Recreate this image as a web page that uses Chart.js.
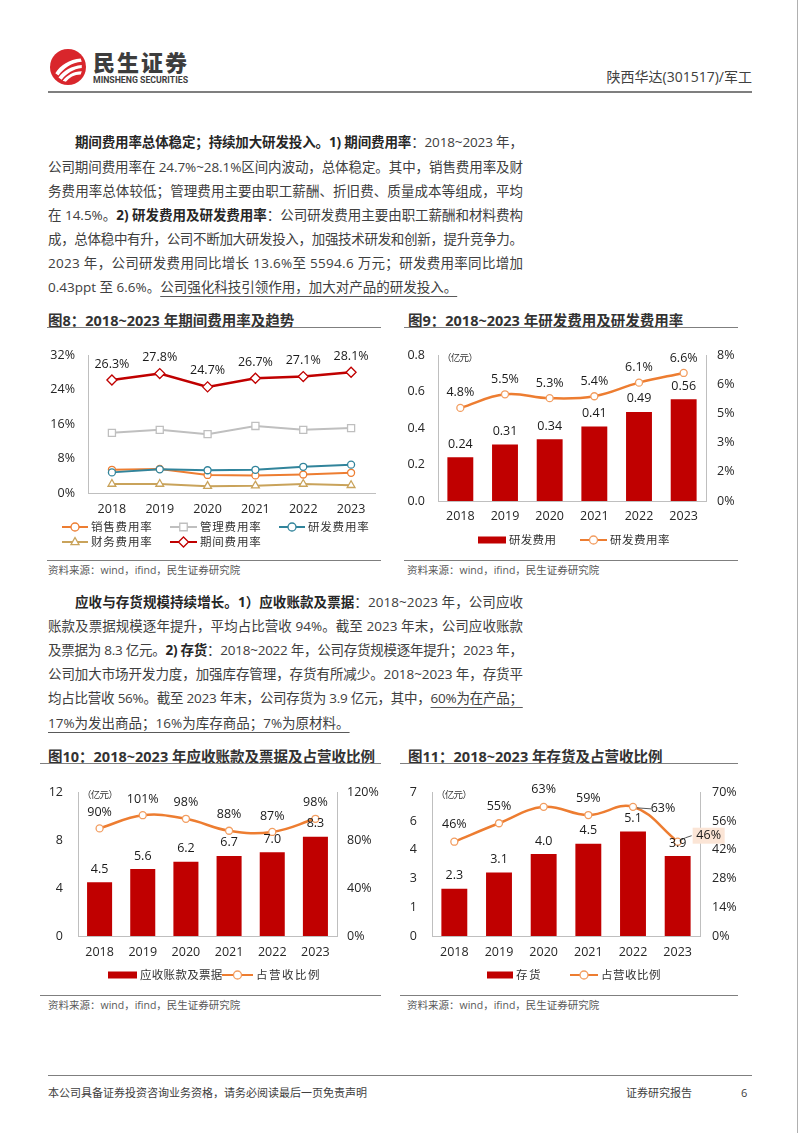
<!DOCTYPE html>
<html>
<head>
<meta charset="utf-8">
<title>陕西华达 费用与营运</title>
<script src="https://cdn.jsdelivr.net/npm/chart.js"></script>
<style>
    body { margin: 0; background: #fff; }
    #page { position: relative; width: 802px; height: 1133px; overflow: hidden; background: #fff;
        font-family: "Open Sans", "Noto Sans CJK SC", sans-serif; color: #404040; }
    .abs { position: absolute; white-space: nowrap; }
    .rule { position: absolute; height: 1px; background: #7f7f7f; }
    .ln { position: absolute; left: 48px; width: 475px; white-space: nowrap; font-size: 13.5px; line-height: 20px; height: 20px; }
    .ln b { font-weight: 700; color: #262626; }
    .ln u { text-decoration: underline; text-decoration-color: #595959; text-underline-offset: 4px; }
    .ttl { position: absolute; font-size: 14.5px; font-weight: 700; color: #333; line-height: 20px; white-space: nowrap; }
    .src { position: absolute; font-size: 10.5px; color: #595959; line-height: 14px; white-space: nowrap; }
    canvas { position: absolute; }
</style>
</head>
<body>
<div id="page">
    <!-- header -->
    <svg class="abs" style="left:50px;top:49px" width="36" height="36" viewBox="0 0 34 34">
        <circle cx="17" cy="17" r="17" fill="#D9262C"/>
        <path d="M5 23 C10 15 18 10 29 9 L30 12 C20 13 13 18 8 25 Z" fill="#fff"/>
        <path d="M8 27 C13 20 20 16 30 15 L30 18 C22 19 16 23 11 29 Z" fill="#fff"/>
        <path d="M12 30 C16 25 22 21 30 21 L29 24 C23 24 18 27 15 31 Z" fill="#fff"/>
    </svg>
    <div class="abs" style="left:93px;top:48px;font:900 22px 'Noto Sans CJK SC';letter-spacing:2px;color:#3d3d3d;line-height:26px">民生证券</div>
    <div class="abs fit" data-w="95" style="left:93px;top:74px;font:700 9.5px 'Liberation Sans Narrow','Roboto';color:#3d3d3d;line-height:12px;transform-origin:0 0">MINSHENG SECURITIES</div>
    <div class="abs" style="right:50px;top:67px;font-size:14px;line-height:20px;color:#404040">陕西华达(301517)/军工</div>
    <div class="rule" style="left:48px;top:91px;width:704px;height:2px"></div>
    <div class="abs" style="left:797px;top:0;width:1px;height:1133px;background:#b0b0b0"></div>

    <!-- paragraph 1 -->
    <div class="ln j" style="top:132px;left:75px;width:448px"><span class="t"><b>期间费用率总体稳定；持续加大研发投入。1) 期间费用率</b>：2018~2023 年，</span></div>
    <div class="ln j" style="top:157px"><span class="t">公司期间费用率在 24.7%~28.1%区间内波动，总体稳定。其中，销售费用率及财</span></div>
    <div class="ln j" style="top:181px"><span class="t">务费用率总体较低；管理费用主要由职工薪酬、折旧费、质量成本等组成，平均</span></div>
    <div class="ln j" style="top:205px"><span class="t">在 14.5%。<b>2) 研发费用及研发费用率</b>：公司研发费用主要由职工薪酬和材料费构</span></div>
    <div class="ln j" style="top:229px"><span class="t">成，总体稳中有升，公司不断加大研发投入，加强技术研发和创新，提升竞争力。</span></div>
    <div class="ln j" style="top:253px"><span class="t">2023 年，公司研发费用同比增长 13.6%至 5594.6 万元；研发费用率同比增加</span></div>
    <div class="ln" style="top:277px"><span class="t">0.43ppt 至 6.6%。<u>公司强化科技引领作用，加大对产品的研发投入。</u></span></div>

    <!-- figure 8 / 9 -->
    <div class="ttl" style="left:48px;top:311px">图8：2018~2023 年期间费用率及趋势</div>
    <div class="ttl" style="left:408px;top:311px">图9：2018~2023 年研发费用及研发费用率</div>
    <div class="rule" style="left:47px;top:327px;width:334px"></div>
    <div class="rule" style="left:404px;top:327px;width:334px"></div>
    <canvas id="c8" width="350" height="220" style="left:40px;top:335px"></canvas>
    <canvas id="c9" width="350" height="220" style="left:400px;top:335px"></canvas>
    <div class="rule" style="left:47px;top:560px;width:334px"></div>
    <div class="rule" style="left:404px;top:560px;width:334px"></div>
    <div class="src" style="left:48px;top:563px">资料来源：wind，ifind，民生证券研究院</div>
    <div class="src" style="left:407px;top:563px">资料来源：wind，ifind，民生证券研究院</div>

    <!-- paragraph 2 -->
    <div class="ln j" style="top:592px;left:75px;width:448px"><span class="t"><b>应收与存货规模持续增长。1）应收账款及票据</b>：2018~2023 年，公司应收</span></div>
    <div class="ln j" style="top:616px"><span class="t">账款及票据规模逐年提升，平均占比营收 94%。截至 2023 年末，公司应收账款</span></div>
    <div class="ln j" style="top:640px"><span class="t">及票据为 8.3 亿元。<b>2) 存货</b>：2018~2022 年，公司存货规模逐年提升；2023 年，</span></div>
    <div class="ln j" style="top:664px"><span class="t">公司加大市场开发力度，加强库存管理，存货有所减少。2018~2023 年，存货平</span></div>
    <div class="ln j" style="top:688px"><span class="t">均占比营收 56%。截至 2023 年末，公司存货为 3.9 亿元，其中，<u>60%为在产品；</u></span></div>
    <div class="ln" style="top:713px"><span class="t"><u>17%为发出商品；16%为库存商品；7%为原材料。</u></span></div>

    <!-- figure 10 / 11 -->
    <div class="ttl" style="left:48px;top:747px">图10：2018~2023 年应收账款及票据及占营收比例</div>
    <div class="ttl" style="left:408px;top:747px">图11：2018~2023 年存货及占营收比例</div>
    <div class="rule" style="left:40px;top:763px;width:341px"></div>
    <div class="rule" style="left:400px;top:763px;width:338px"></div>
    <canvas id="c10" width="350" height="220" style="left:40px;top:770px"></canvas>
    <canvas id="c11" width="350" height="220" style="left:400px;top:770px"></canvas>
    <div class="rule" style="left:40px;top:995px;width:341px"></div>
    <div class="rule" style="left:400px;top:995px;width:338px"></div>
    <div class="src" style="left:48px;top:998px">资料来源：wind，ifind，民生证券研究院</div>
    <div class="src" style="left:407px;top:998px">资料来源：wind，ifind，民生证券研究院</div>

    <!-- footer -->
    <div class="rule" style="left:48px;top:1075px;width:704px"></div>
    <div class="abs" style="left:48px;top:1085px;font-size:11px;line-height:16px;color:#404040">本公司具备证券投资咨询业务资格，请务必阅读最后一页免责声明</div>
    <div class="abs" style="left:626px;top:1085px;font-size:11px;line-height:16px;color:#404040">证券研究报告</div>
    <div class="abs" style="left:741px;top:1085px;font-size:11px;line-height:16px;color:#404040">6</div>
</div>

<script>
    // ---- data ----
    const years = ['2018', '2019', '2020', '2021', '2022', '2023'];

    // 图8 期间费用率及趋势 (%)
    const salesRate = [5.4, 5.6, 4.2, 4.1, 4.3, 4.7];
    const adminRate = [14.0, 14.7, 13.7, 15.6, 14.7, 15.1];
    const rdRate = [4.8, 5.5, 5.3, 5.4, 6.1, 6.6];
    const finRate = [2.1, 2.1, 1.6, 1.7, 2.1, 1.8];
    const periodRate = [26.3, 27.8, 24.7, 26.7, 27.1, 28.1];
    const ticks8 = ['0%', '8%', '16%', '24%', '32%'];

    // 图9 研发费用 (亿元) 及研发费用率
    const rdExpense = [0.24, 0.31, 0.34, 0.41, 0.49, 0.56];
    const ticks9L = ['0.0', '0.2', '0.4', '0.6', '0.8'];
    const ticks9R = ['0%', '2%', '3%', '5%', '6%', '8%'];

    // 图10 应收账款及票据 (亿元) 及占营收比例 (%)
    const receivables = [4.5, 5.6, 6.2, 6.7, 7.0, 8.3];
    const recvRatio = [90, 101, 98, 88, 87, 98];
    const ticks10L = ['0', '4', '8', '12'];
    const ticks10R = ['0%', '40%', '80%', '120%'];

    // 图11 存货 (亿元) 及占营收比例 (%)
    const inventory = [2.3, 3.1, 4.0, 4.5, 5.1, 3.9];
    const invRatio = [46, 55, 63, 59, 63, 46];
    const ticks11L = ['0', '1', '3', '4', '6', '7'];
    const ticks11R = ['0%', '14%', '28%', '42%', '56%', '70%'];

    // ---- text justification ----
    document.querySelectorAll('.ln.j').forEach(el => {
        const s = el.querySelector('.t');
        const target = el.clientWidth;
        const w = s.getBoundingClientRect().width;
        const n = Array.from(s.textContent).length;
        s.style.letterSpacing = ((target - w) / (n - 1)) + 'px';
    });
    document.querySelectorAll('.fit').forEach(el => {
        const w = el.getBoundingClientRect().width;
        el.style.transform = 'scaleX(' + (Number(el.dataset.w) / w) + ')';
    });

    // ---- chart helpers ----
    Chart.defaults.font.family = '"Open Sans", "Noto Sans CJK SC", sans-serif';
    Chart.defaults.font.size = 12;
    Chart.defaults.color = '#262626';
    Chart.defaults.animation = false;

    const ORANGE = '#ED7D31';
    const DARKRED = '#C00000';
    const AXIS = '#bfbfbf';

    function drawMarker(ctx, style, x, y, r, color) {
        ctx.beginPath();
        if (style === 'circle') ctx.arc(x, y, r, 0, Math.PI * 2);
        else if (style === 'rect') ctx.rect(x - r * 0.75, y - r * 0.75, r * 1.5, r * 1.5);
        else if (style === 'rectRot') {
            ctx.moveTo(x, y - r); ctx.lineTo(x + r, y); ctx.lineTo(x, y + r); ctx.lineTo(x - r, y); ctx.closePath();
        } else if (style === 'triangle') {
            ctx.moveTo(x, y - r); ctx.lineTo(x + r * 0.9, y + r * 0.6); ctx.lineTo(x - r * 0.9, y + r * 0.6); ctx.closePath();
        }
        ctx.fillStyle = '#fff';
        ctx.fill();
        ctx.lineWidth = 1.3;
        ctx.strokeStyle = color;
        ctx.stroke();
    }

    function spacedText(ctx, str, x, y, step) {
        for (const ch of str) {
            ctx.fillText(ch, x, y);
            x += step;
        }
    }

    const deco = {
        id: 'deco',
        afterDatasetsDraw(chart, args, opts) {
            const ctx = chart.ctx;
            ctx.save();
            ctx.textAlign = 'center';
            ctx.textBaseline = 'middle';
            ctx.font = '12.5px "Open Sans", "Noto Sans CJK SC"';
            chart.data.datasets.forEach((ds, di) => {
                if (!ds.lbl) return;
                const meta = chart.getDatasetMeta(di);
                meta.data.forEach((el, i) => {
                    const txt = ds.lbl.fmt(ds.data[i]);
                    const sp = (ds.lbl.special || {})[i];
                    let x = el.x, y = el.y - ds.lbl.dy;
                    if (sp) {
                        x = el.x + sp.dx;
                        y = el.y + sp.dy;
                        if (sp.leader) {
                            ctx.beginPath();
                            sp.leader.forEach((p, k) => {
                                if (k === 0) ctx.moveTo(el.x + p[0], el.y + p[1]);
                                else ctx.lineTo(el.x + p[0], el.y + p[1]);
                            });
                            ctx.strokeStyle = '#595959';
                            ctx.lineWidth = 1;
                            ctx.stroke();
                        }
                        if (sp.box) {
                            ctx.fillStyle = sp.box;
                            ctx.fillRect(x - 16, y - 8, 32, 16);
                        }
                    }
                    ctx.fillStyle = '#1a1a1a';
                    ctx.fillText(txt, x, y);
                });
            });
            ctx.restore();
        },
        afterDraw(chart, args, opts) {
            const ctx = chart.ctx;
            const ca = chart.chartArea;
            ctx.save();
            ctx.textBaseline = 'middle';
            ctx.textAlign = 'left';
            ctx.fillStyle = '#333';
            if (opts.unit) {
                ctx.font = '9.5px "Noto Sans CJK SC"';
                spacedText(ctx, opts.unit, ca.left + 4, ca.top + 2, 8.8);
            }
            if (opts.legend) {
                opts.legend.forEach(it => {
                    if (it.kind === 'bar') {
                        ctx.fillStyle = it.color;
                        ctx.fillRect(it.x, it.y - 3.5, it.w, 7);
                    } else {
                        ctx.beginPath();
                        ctx.moveTo(it.x, it.y);
                        ctx.lineTo(it.x + it.w, it.y);
                        ctx.strokeStyle = it.color;
                        ctx.lineWidth = 2;
                        ctx.stroke();
                        drawMarker(ctx, it.marker, it.x + it.w / 2, it.y, it.r || 4, it.mcolor || it.color);
                    }
                    ctx.fillStyle = '#333';
                    ctx.font = '11.5px "Noto Sans CJK SC"';
                    spacedText(ctx, it.label, it.x + it.w + 3, it.y, it.step || 12);
                });
            }
            ctx.restore();
        }
    };
    Chart.register(deco);

    function axisX(height, pad) {
        return {
            offset: true,
            grid: { display: false, drawTicks: false },
            border: { display: true, color: AXIS },
            ticks: { padding: pad, maxRotation: 0, font: { size: 12.5 } },
            afterFit: s => { s.height = height; }
        };
    }

    function axisY(pos, max, step, labels, width, pad) {
        return {
            position: pos,
            min: 0,
            max: max,
            grid: { display: false, drawTicks: false },
            border: { display: true, color: AXIS },
            ticks: { stepSize: step, padding: pad, font: { size: 12.5 }, callback: (v, i) => labels[i] },
            afterFit: s => { s.width = width; }
        };
    }

    const lineStyle = {
        type: 'line',
        borderColor: ORANGE,
        borderWidth: 2.5,
        tension: 0.4,
        pointStyle: 'circle',
        pointRadius: 3.5,
        pointBackgroundColor: '#fff',
        pointBorderColor: '#F29D60',
        pointBorderWidth: 1.3,
        yAxisID: 'y1',
        order: 0
    };
    const barStyle = {
        type: 'bar',
        backgroundColor: DARKRED,
        categoryPercentage: 0.58,
        barPercentage: 1,
        yAxisID: 'y',
        order: 1
    };
    const basePlugins = { legend: { display: false }, tooltip: { enabled: false } };

    // ---- 图8 ----
    function rateLine(label, data, color, style, r, bw) {
        return {
            label, data, borderColor: color, borderWidth: bw, pointStyle: style, pointRadius: r,
            pointBackgroundColor: '#fff', pointBorderColor: color, pointBorderWidth: 1.3, tension: 0
        };
    }
    const period = rateLine('期间费用率', periodRate, DARKRED, 'rectRot', 5, 2.5);
    period.lbl = { dy: 16, fmt: v => v.toFixed(1) + '%' };
    new Chart(document.getElementById('c8'), {
        type: 'line',
        data: {
            labels: years,
            datasets: [
                period,
                rateLine('研发费用率', rdRate, '#31849B', 'circle', 3.5, 2),
                rateLine('销售费用率', salesRate, ORANGE, 'circle', 3.5, 2),
                rateLine('管理费用率', adminRate, '#BFBFBF', 'rect', 5, 2),
                rateLine('财务费用率', finRate, '#C9A35B', 'triangle', 4.5, 2)
            ]
        },
        options: {
            responsive: false,
            layout: { padding: { top: 20, right: 15, left: 0, bottom: 0 } },
            scales: { x: axisX(62, 9), y: axisY('left', 32, 8, ticks8, 48, 13) },
            plugins: Object.assign({}, basePlugins, {
                deco: {
                    legend: [
                        { kind: 'line', color: ORANGE, marker: 'circle', x: 22, w: 26, y: 192, label: '销售费用率', step: 12.3 },
                        { kind: 'line', color: '#BFBFBF', marker: 'rect', r: 5, x: 130, w: 27, y: 192, label: '管理费用率', step: 12.3 },
                        { kind: 'line', color: '#31849B', marker: 'circle', x: 239, w: 26, y: 192, label: '研发费用率', step: 12.3 },
                        { kind: 'line', color: '#C9A35B', marker: 'triangle', r: 4.5, x: 22, w: 26, y: 207, label: '财务费用率', step: 12.3 },
                        { kind: 'line', color: DARKRED, marker: 'rectRot', r: 5, x: 130, w: 27, y: 207, label: '期间费用率', step: 12.3 }
                    ]
                }
            })
        }
    });

    // ---- 图9 ----
    new Chart(document.getElementById('c9'), {
        type: 'bar',
        data: {
            labels: years,
            datasets: [
                Object.assign({}, lineStyle, { label: '研发费用率', data: rdRate, lbl: { dy: 15, fmt: v => v.toFixed(1) + '%' } }),
                Object.assign({}, barStyle, { label: '研发费用', data: rdExpense, lbl: { dy: 13, fmt: v => v.toFixed(2) } })
            ]
        },
        options: {
            responsive: false,
            layout: { padding: { top: 13, right: 0, left: 0, bottom: 0 } },
            scales: {
                x: axisX(54, 8),
                y: axisY('left', 0.8, 0.2, ticks9L, 38, 13),
                y1: axisY('right', 7.5, 1.5, ticks9R, 44, 11)
            },
            plugins: Object.assign({}, basePlugins, {
                deco: {
                    unit: '（亿元）',
                    legend: [
                        { kind: 'bar', color: DARKRED, x: 78, w: 28, y: 205, label: '研发费用', step: 11.8 },
                        { kind: 'line', color: ORANGE, marker: 'circle', mcolor: '#F29D60', x: 180, w: 27, y: 205, label: '研发费用率', step: 12 }
                    ]
                }
            })
        }
    });

    // ---- 图10 ----
    new Chart(document.getElementById('c10'), {
        type: 'bar',
        data: {
            labels: years,
            datasets: [
                Object.assign({}, lineStyle, { label: '占营收比例', data: recvRatio, lbl: { dy: 16, fmt: v => v + '%' } }),
                Object.assign({}, barStyle, { label: '应收账款及票据', data: receivables, lbl: { dy: 13, fmt: v => v.toFixed(1) } })
            ]
        },
        options: {
            responsive: false,
            layout: { padding: { top: 14, right: 0, left: 0, bottom: 0 } },
            scales: {
                x: axisX(54, 9),
                y: axisY('left', 12, 4, ticks10L, 38, 15),
                y1: axisY('right', 120, 40, ticks10R, 53, 10)
            },
            plugins: Object.assign({}, basePlugins, {
                deco: {
                    unit: '（亿元）',
                    legend: [
                        { kind: 'bar', color: DARKRED, x: 68, w: 29, y: 205, label: '应收账款及票据', step: 11.8 },
                        { kind: 'line', color: ORANGE, marker: 'circle', mcolor: '#F29D60', x: 182, w: 31, y: 205, label: '占营收比例', step: 13 }
                    ]
                }
            })
        }
    });

    // ---- 图11 ----
    new Chart(document.getElementById('c11'), {
        type: 'bar',
        data: {
            labels: years,
            datasets: [
                Object.assign({}, lineStyle, {
                    label: '占营收比例', data: invRatio,
                    lbl: {
                        dy: 17, fmt: v => v + '%',
                        special: {
                            4: { dx: 30, dy: 2, leader: [[4, 1], [18, 2]] },
                            5: { dx: 31, dy: -6, box: '#FBE5D6', leader: [[2, -1], [8, -4], [14, -6]] }
                        }
                    }
                }),
                Object.assign({}, barStyle, { label: '存货', data: inventory, lbl: { dy: 13, fmt: v => v.toFixed(1) } })
            ]
        },
        options: {
            responsive: false,
            layout: { padding: { top: 13, right: 0, left: 0, bottom: 0 } },
            scales: {
                x: axisX(54, 9),
                y: axisY('left', 7, 1.4, ticks11L, 32, 15),
                y1: axisY('right', 70, 14, ticks11R, 50, 12)
            },
            plugins: Object.assign({}, basePlugins, {
                deco: {
                    unit: '（亿元）',
                    legend: [
                        { kind: 'bar', color: DARKRED, x: 87, w: 26, y: 205, label: '存货', step: 13 },
                        { kind: 'line', color: ORANGE, marker: 'circle', mcolor: '#F29D60', x: 170, w: 28, y: 205, label: '占营收比例', step: 12 }
                    ]
                }
            })
        }
    });
</script>
</body>
</html>
